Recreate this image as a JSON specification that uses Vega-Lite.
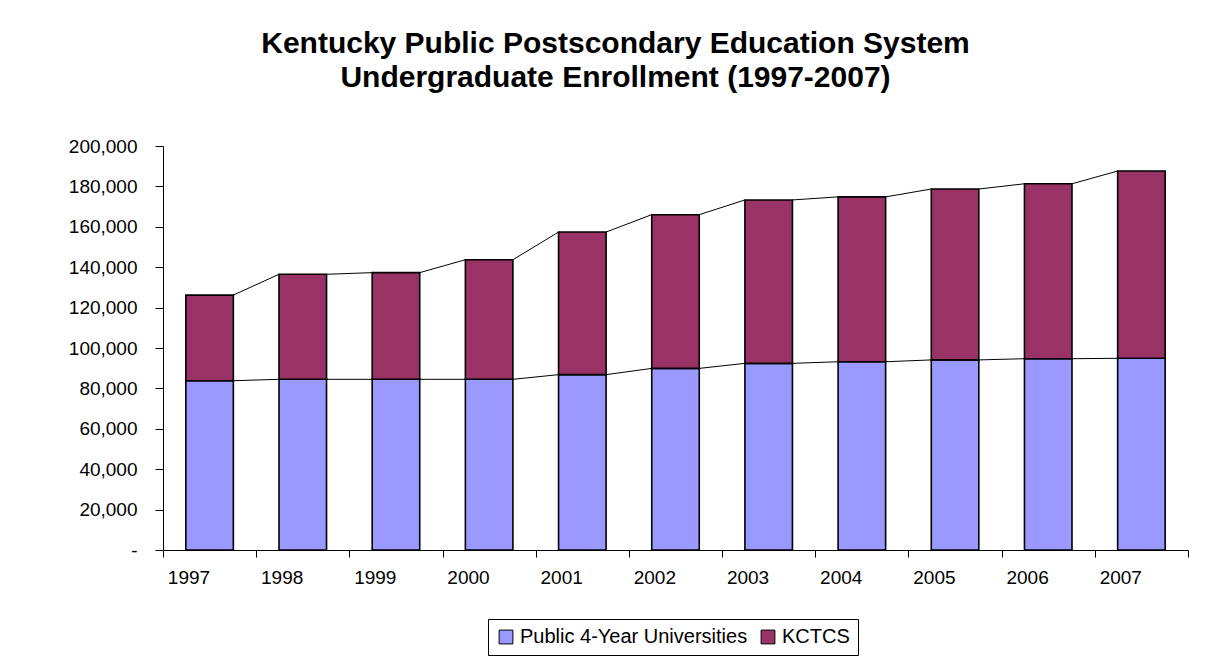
{
  "$schema": "https://vega.github.io/schema/vega-lite/v6.json",
  "width": 1025,
  "height": 404,
  "autosize": {"type": "none"},
  "padding": {"left": 163, "top": 146, "right": 20, "bottom": 108},
  "background": "white",
  "config": {"font": "Liberation Sans", "view": {"stroke": null}},
  "title": {
    "text": ["Kentucky Public Postscondary Education System", "Undergraduate Enrollment (1997-2007)"],
    "fontSize": 30,
    "fontWeight": "bold",
    "color": "black",
    "lineHeight": 34,
    "anchor": "middle",
    "frame": "group",
    "dx": -60,
    "offset": 44
  },
  "data": {
    "values": [
      {"year": "1997", "series": "Public 4-Year Universities", "value": 83800},
      {"year": "1997", "series": "KCTCS", "value": 42400},
      {"year": "1998", "series": "Public 4-Year Universities", "value": 84500},
      {"year": "1998", "series": "KCTCS", "value": 52000},
      {"year": "1999", "series": "Public 4-Year Universities", "value": 84500},
      {"year": "1999", "series": "KCTCS", "value": 52800},
      {"year": "2000", "series": "Public 4-Year Universities", "value": 84500},
      {"year": "2000", "series": "KCTCS", "value": 59200},
      {"year": "2001", "series": "Public 4-Year Universities", "value": 86800},
      {"year": "2001", "series": "KCTCS", "value": 70600},
      {"year": "2002", "series": "Public 4-Year Universities", "value": 89900},
      {"year": "2002", "series": "KCTCS", "value": 76100},
      {"year": "2003", "series": "Public 4-Year Universities", "value": 92400},
      {"year": "2003", "series": "KCTCS", "value": 80900},
      {"year": "2004", "series": "Public 4-Year Universities", "value": 93200},
      {"year": "2004", "series": "KCTCS", "value": 81600},
      {"year": "2005", "series": "Public 4-Year Universities", "value": 94100},
      {"year": "2005", "series": "KCTCS", "value": 84600},
      {"year": "2006", "series": "Public 4-Year Universities", "value": 94700},
      {"year": "2006", "series": "KCTCS", "value": 86600},
      {"year": "2007", "series": "Public 4-Year Universities", "value": 94900},
      {"year": "2007", "series": "KCTCS", "value": 92700}
    ]
  },
  "transform": [
    {"stack": "value", "groupby": ["year"], "sort": [{"field": "series", "order": "descending"}], "as": ["lo", "hi"]},
    {"window": [{"op": "lead", "field": "hi", "as": "hiNext"}, {"op": "lead", "field": "year", "as": "yearNext"}], "groupby": ["series"], "sort": [{"field": "year", "order": "ascending"}]}
  ],
  "layer": [
    {
      "transform": [{"filter": "datum.yearNext != null"}],
      "mark": {"type": "rule", "color": "black", "strokeWidth": 1},
      "encoding": {
        "x": {"field": "year", "type": "ordinal", "bandPosition": 0.755},
        "x2": {"field": "yearNext", "bandPosition": 0.245},
        "y": {"field": "hi", "type": "quantitative"},
        "y2": {"field": "hiNext"}
      }
    },
    {
      "mark": {"type": "bar", "stroke": "black", "strokeWidth": 1.6, "width": {"band": 0.51}},
      "encoding": {
        "x": {
          "field": "year",
          "type": "ordinal",
          "scale": {"paddingInner": 0, "paddingOuter": 0},
          "axis": {
            "title": null,
            "labelAngle": 0,
            "labelFontSize": 19,
            "labelColor": "black",
            "tickBand": "extent",
            "tickSize": 7,
            "tickColor": "black",
            "domainColor": "black",
            "labelPadding": 20
          }
        },
        "y": {
          "field": "lo",
          "type": "quantitative",
          "scale": {"domain": [0, 200000], "nice": false},
          "axis": {
            "title": null,
            "values": [0, 20000, 40000, 60000, 80000, 100000, 120000, 140000, 160000, 180000, 200000],
            "labelExpr": "datum.value == 0 ? '-' : format(datum.value, ',')",
            "labelFontSize": 19,
            "labelColor": "black",
            "tickSize": 8,
            "tickColor": "black",
            "domainColor": "black",
            "labelPadding": 18,
            "grid": false
          }
        },
        "y2": {"field": "hi"},
        "color": {
          "field": "series",
          "type": "nominal",
          "scale": {"domain": ["Public 4-Year Universities", "KCTCS"], "range": ["#9999FF", "#993366"]},
          "legend": {
            "title": null,
            "orient": "none",
            "legendX": 325,
            "legendY": 473,
            "direction": "horizontal",
            "labelFontSize": 20,
            "labelColor": "black",
            "labelLimit": 500,
            "symbolType": "square",
            "symbolSize": 190,
            "symbolStrokeColor": "black",
            "symbolStrokeWidth": 1,
            "symbolOpacity": 1,
            "strokeColor": "black",
            "padding": 8,
            "columnPadding": 10
          }
        }
      }
    }
  ]
}
